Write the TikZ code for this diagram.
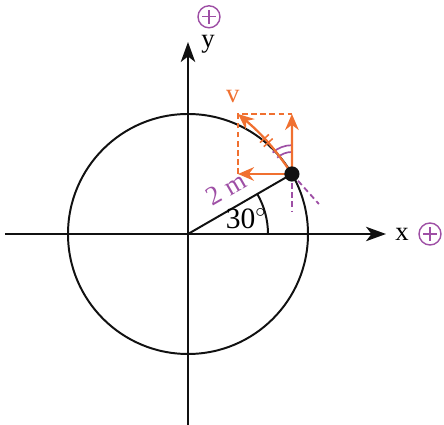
\documentclass[tikz,border=0pt]{standalone}
\usepackage{fontspec}
\setmainfont{Liberation Serif}
\usetikzlibrary{arrows.meta, calc, decorations.markings}
\definecolor{ink}{HTML}{111111}
\definecolor{velorange}{HTML}{F07030}
\definecolor{signpurple}{HTML}{9E4FA5}
\tikzset{
  axis/.style      = {-{Stealth[length=5mm, width=3.6mm, inset=1.4mm]}, line width=1.5pt, draw=ink},
  hoop/.style      = {line width=1.4pt, draw=ink},
  vec/.style       = {-{Stealth[length=4mm, width=3.4mm]}, line width=1.6pt, draw=velorange},
  guide/.style     = {dash pattern=on 4pt off 2.5pt, line width=1.3pt, draw=velorange},
  helper/.style    = {dash pattern=on 4pt off 2.5pt, line width=1.3pt, draw=signpurple},
  anglemark/.style = {line width=1.2pt, draw=signpurple},
  tickmarks/.style = {postaction={decorate}, decoration={markings, mark=at position 0.52 with
                      {\draw[-, velorange, line width=1.1pt] (-0.07,-0.15) -- (-0.07,0.15) (0.07,-0.15) -- (0.07,0.15);}}},
  sign/.style      = {circle, draw=signpurple, line width=1pt, minimum size=5.5mm, inner sep=0pt,
                      path picture={\draw[signpurple, line width=0.9pt]
                        ($(path picture bounding box.center)+(-0.17,0)$) -- +(0.34,0)
                        ($(path picture bounding box.center)+(0,-0.17)$) -- +(0,0.34);}},
  lbl/.style       = {font=\fontsize{19}{19}\selectfont, inner sep=1pt},
  biglbl/.style    = {font=\fontsize{21}{21}\selectfont, inner sep=0pt},
  dot/.style       = {circle, fill=ink, inner sep=0pt, minimum size=3.8mm},
}

\begin{document}
\begin{tikzpicture}
  \useasboundingbox (-4.7,-4.775) rectangle (6.4,5.85);
  % axes and circle
  \coordinate (O) at (0,0);
  \coordinate (xl) at (-4.575,0);
  \coordinate (xr) at (4.95,0);
  \coordinate (yb) at (0,-4.775);
  \coordinate (yt) at (0,4.8);
  \draw[axis] (xl) -- (xr);
  \draw[axis] (yb) -- (yt);
  \draw[hoop] (O) circle[radius=3];
  \node[lbl] (xlab) at (5.35,-0.02) {x};
  \node[lbl] (ylab) at (0.5,4.75) {y};
  \node[sign] (xsign) at (6.05,0) {};
  \node[sign] (ysign) at (0.525,5.43) {};

  % radius and angle
  \coordinate (P) at (30:3);
  \draw[hoop] (O) -- (P);
  \draw[hoop] (2,0) arc[start angle=0, end angle=30, radius=2];
  \node[biglbl] (ang) at (1.45,0.38) {30$^{\circ}$};
  \node[biglbl, font=\fontsize{19}{19}\selectfont, text=signpurple, rotate=30] (rad) at (0.95,1.13) {2 m};

  % velocity and components
  \coordinate (vx) at (1.25,1.5);
  \coordinate (vy) at (2.598,3.0);
  \coordinate (vt) at (1.25,3.0);
  \draw[guide] (vx) -- (vt) -- (vy);
  \draw[helper] (P) -- ($(P)+(0,-0.95)$);
  \draw[helper] (P) -- ($(P)!-0.5!(vt)$);
  \draw[anglemark] (P) ++(90:0.55) arc[start angle=90, end angle=132, radius=0.55];
  \draw[anglemark] (P) ++(90:0.72) arc[start angle=90, end angle=132, radius=0.72];
  \draw[vec] (P) -- (vx);
  \draw[vec] (P) -- (vy);
  \draw[vec, tickmarks] (P) to[bend right=8] (vt);
  \node[lbl, text=velorange] (vlab) at (1.12,3.43) {v};
  \node[dot] (ball) at (P) {};
\end{tikzpicture}
\end{document}
